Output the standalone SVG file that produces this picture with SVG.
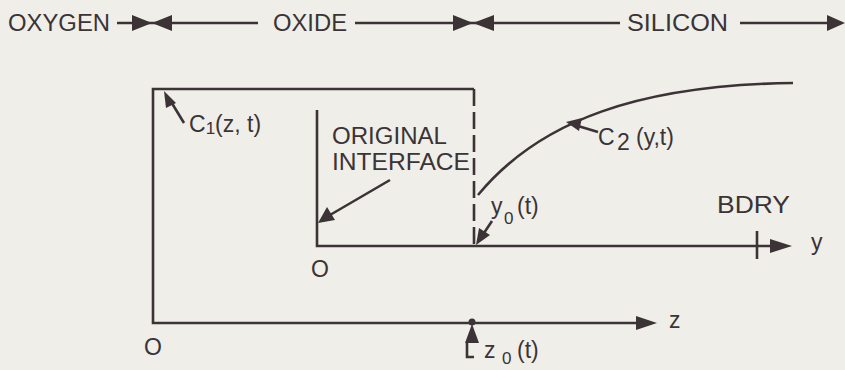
<svg xmlns="http://www.w3.org/2000/svg" width="845" height="370" viewBox="0 0 845 370">
<style>
.ln{stroke:#3b3335;stroke-width:2.6;fill:none;stroke-linecap:butt}
.ah{fill:#3b3335;stroke:none}
.t{font-family:"Liberation Sans",Arial,sans-serif;font-size:23px;fill:#3b3335}
.s{font-family:"Liberation Sans",Arial,sans-serif;font-size:17px;fill:#3b3335}
</style>
<rect width="845" height="370" fill="#efeee9"/>
<g id="header">
<text class="t" x="8" y="31" font-size="24" textLength="102" lengthAdjust="spacingAndGlyphs">OXYGEN</text>
<text class="t" x="273" y="31" font-size="24" textLength="74" lengthAdjust="spacingAndGlyphs">OXIDE</text>
<text class="t" x="627" y="31" font-size="24" textLength="101" lengthAdjust="spacingAndGlyphs">SILICON</text>
</g>
<g id="connectors">
<line class="ln" x1="117" y1="23" x2="258" y2="23"/>
<polygon class="ah" points="132,15 152,23 132,31"/>
<polygon class="ah" points="172,15 152,23 172,31"/>
<line class="ln" x1="355" y1="23" x2="620" y2="23"/>
<polygon class="ah" points="453,15 473,23 453,31"/>
<polygon class="ah" points="494,15 473,23 494,31"/>
<line class="ln" x1="740" y1="23" x2="830" y2="23"/>
<polygon class="ah" points="827,15 845,23 827,31"/>
<polyline class="ln" points="474,89 153,89 153,323 640,323"/>
<polygon class="ah" points="636,316 657,323 636,330"/>
<line class="ln" x1="474" y1="89" x2="474" y2="246" stroke-dasharray="17 6"/>
<polyline class="ln" points="317,110 317,246 775,246"/>
<polygon class="ah" points="770,239 792,246 770,253"/>
<line class="ln" x1="757" y1="231" x2="757" y2="259"/>
<path class="ln" d="M478,195 C540,120 640,85 793,83"/>
<line class="ln" x1="184" y1="123" x2="170" y2="100"/>
<polygon class="ah" points="164,91 176,103 166,108"/>
<line class="ln" x1="390" y1="180" x2="330" y2="215"/>
<polygon class="ah" points="318,223 327,207 335,220"/>
<line class="ln" x1="598" y1="132" x2="578" y2="126"/>
<polygon class="ah" points="566,122 582,118 579,131"/>
<line class="ln" x1="492" y1="221" x2="484" y2="233"/>
<polygon class="ah" points="476,245 479,228 490,235"/>
<circle class="ah" cx="472" cy="322" r="3.5"/>
<polygon class="ah" points="472,324 465,343 479,343"/>
<polyline class="ln" points="467,343 467,357 474,357"/>
</g>
<g id="labels">
<text class="t" x="189" y="132">C<tspan class="s" dy="2">1</tspan><tspan dy="-2">(z, t)</tspan></text>
<text class="t" x="332" y="144" textLength="115" lengthAdjust="spacingAndGlyphs">ORIGINAL</text>
<text class="t" x="332" y="170" textLength="138" lengthAdjust="spacingAndGlyphs">INTERFACE</text>
<text class="t" x="598" y="145">C</text>
<text class="t" x="617" y="150">2</text>
<text class="t" x="636" y="145">(y,t)</text>
<text class="t" x="491" y="214">y</text>
<text class="s" x="504" y="224">0</text>
<text class="t" x="517" y="214">(t)</text>
<text class="t" x="717" y="213" textLength="73" lengthAdjust="spacingAndGlyphs">BDRY</text>
<text class="t" x="811" y="250">y</text>
<text class="t" x="311" y="277">O</text>
<text class="t" x="144" y="355">O</text>
<text class="t" x="669" y="328">z</text>
<text class="t" x="484" y="358">z</text>
<text class="s" x="502" y="364" font-size="15">0</text>
<text class="t" x="517" y="358">(t)</text>
</g>
</svg>
